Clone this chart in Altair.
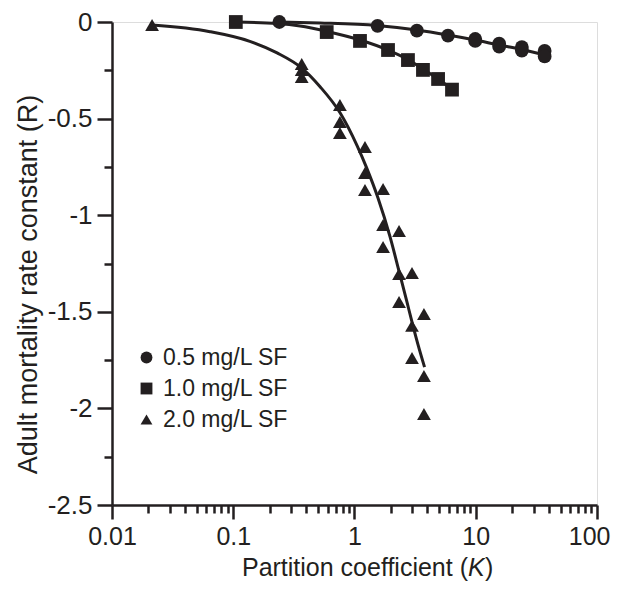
import altair as alt
import pandas as pd

# ---- data ----
series_names = ["0.5 mg/L SF", "1.0 mg/L SF", "2.0 mg/L SF"]

circ_K = [0.24, 1.55, 3.27, 5.9, 9.9, 9.9, 15.6, 15.6, 24.0, 24.0, 37.0, 37.0]
circ_R = [0.0, -0.02, -0.045, -0.07, -0.088, -0.098, -0.112, -0.128, -0.13, -0.148, -0.15, -0.178]

sq_K = [0.105, 0.59, 1.11, 1.89, 2.76, 3.67, 4.89, 6.37]
sq_R = [0.0, -0.052, -0.098, -0.145, -0.197, -0.248, -0.295, -0.35]

tri_K = [0.0214, 0.367, 0.367, 0.367, 0.758, 0.758, 0.758, 1.22, 1.22, 1.22, 1.72, 1.72, 1.72,
         2.33, 2.33, 2.33, 2.98, 2.98, 2.98, 3.74, 3.74, 3.74]
tri_R = [-0.016, -0.217, -0.248, -0.285, -0.430, -0.518, -0.575, -0.647, -0.782, -0.870,
         -0.864, -1.051, -1.165, -1.082, -1.304, -1.449, -1.299, -1.573, -1.739, -1.511,
         -1.832, -2.029]

# fitted curves
circ_curve_K = [0.24, 0.52, 1.53, 3.27, 5.9, 9.86, 15.6, 24.0, 37.2]
circ_curve_R = [0.0, -0.005, -0.018, -0.041, -0.067, -0.093, -0.119, -0.142, -0.171]

sq_curve_K = [0.105, 0.23, 0.356, 0.593, 1.11, 1.89, 2.76, 3.67, 4.89, 6.37]
sq_curve_R = [0.0, -0.008, -0.021, -0.049, -0.093, -0.145, -0.194, -0.243, -0.295, -0.347]

tri_curve_K = [0.0214, 0.0643, 0.137, 0.23, 0.37, 0.52, 0.76, 1.05, 1.25, 1.56, 1.96, 2.33,
               2.71, 3.0, 3.34, 3.78]
tri_curve_R = [-0.016, -0.050, -0.100, -0.160, -0.240, -0.335, -0.470, -0.640, -0.750, -0.910,
               -1.110, -1.290, -1.450, -1.560, -1.670, -1.786]

x_major = [0.01, 0.1, 1, 10, 100]
x_minor = [m * d for d in [0.01, 0.1, 1, 10] for m in range(2, 10)]
y_major = [0, -0.5, -1, -1.5, -2, -2.5]
y_minor = [-0.25, -0.75, -1.25, -1.75, -2.25]

# ---- tables ----
pts = pd.concat([
    pd.DataFrame({"K": circ_K, "R": circ_R, "series": series_names[0]}),
    pd.DataFrame({"K": sq_K, "R": sq_R, "series": series_names[1]}),
    pd.DataFrame({"K": tri_K, "R": tri_R, "series": series_names[2]}),
])
curves = pd.concat([
    pd.DataFrame({"K": circ_curve_K, "R": circ_curve_R, "series": series_names[0]}),
    pd.DataFrame({"K": sq_curve_K, "R": sq_curve_R, "series": series_names[1]}),
    pd.DataFrame({"K": tri_curve_K, "R": tri_curve_R, "series": series_names[2]}),
])

INK = "#231f20"
FONT = "Liberation Sans"
W, H = 485, 483

xscale = alt.Scale(type="log", domain=[0.01, 100], nice=False)
yscale = alt.Scale(domain=[-2.5, 0], nice=False, zero=False)

last_x = "datum.value == 100"
major_x = alt.Axis(orient="bottom", values=x_major, labelExpr="'' + datum.value",
                   title=None, tickSize=14, tickWidth=2.5, domainWidth=2.5,
                   domainColor=INK, tickColor=INK, labelColor=INK, labelFont=FONT,
                   labelFontSize=25, labelPadding=5, grid=False, labelFlush=False,
                   labelOverlap=False,
                   labelAlign={"condition": {"test": last_x, "value": "right"}, "value": "center"},
                   labelOffset={"condition": {"test": last_x, "value": 13}, "value": 0})
major_y = alt.Axis(orient="left", values=y_major,
                   labelExpr="datum.value == 0 ? '0' : '-' + format(-datum.value, '')",
                   title="Adult mortality rate constant (R)", titleFont=FONT,
                   titleFontSize=27, titleFontWeight="normal", titleColor=INK,
                   titlePadding=5, titleY=262,
                   tickSize=15, tickWidth=2.5, domainWidth=2.5, domainColor=INK,
                   tickColor=INK, labelColor=INK, labelFont=FONT, labelFontSize=26,
                   labelPadding=5, grid=False, labelOverlap=False)
minor_x = alt.Axis(orient="bottom", values=x_minor, labels=False, domain=False, title=None,
                   tickSize=8, tickWidth=2.5, tickColor=INK, grid=False)
minor_y = alt.Axis(orient="left", values=y_minor, labels=False, domain=False, title=None,
                   tickSize=8, tickWidth=2.5, tickColor=INK, grid=False)

lines = alt.Chart(curves).mark_line(color=INK, strokeWidth=3, interpolate="monotone").encode(
    x=alt.X("K:Q", scale=xscale, axis=major_x),
    y=alt.Y("R:Q", scale=yscale, axis=major_y),
    detail="series:N",
)

points = alt.Chart(pts).mark_point(filled=True, opacity=1, color=INK, size=190).encode(
    x=alt.X("K:Q", scale=xscale, axis=minor_x),
    y=alt.Y("R:Q", scale=yscale, axis=minor_y),
    shape=alt.Shape("series:N",
                    scale=alt.Scale(domain=series_names,
                                    range=["circle", "square", "triangle-up"]),
                    legend=alt.Legend(orient="none", legendX=23, legendY=324, title=None,
                                      labelFont=FONT, labelFontSize=23, labelColor=INK,
                                      symbolSize=140, symbolFillColor=INK,
                                      symbolStrokeColor=INK, symbolStrokeWidth=0,
                                      rowPadding=7, labelOffset=5)),
)

# x-axis title with italic K
TY = 554
FS = 25
t1 = alt.Chart(pd.DataFrame({"t": ["Partition coefficient ("]})).mark_text(
    align="right", baseline="alphabetic", font=FONT, fontSize=FS, color=INK).encode(
    text="t:N", x=alt.value(356), y=alt.value(TY))
t2 = alt.Chart(pd.DataFrame({"t": ["K"]})).mark_text(
    align="left", baseline="alphabetic", font=FONT, fontSize=FS, fontStyle="italic", color=INK).encode(
    text="t:N", x=alt.value(356), y=alt.value(TY))
t3 = alt.Chart(pd.DataFrame({"t": [")"]})).mark_text(
    align="left", baseline="alphabetic", font=FONT, fontSize=FS, color=INK).encode(
    text="t:N", x=alt.value(373), y=alt.value(TY))

chart = alt.layer(lines, points, t1, t2, t3).resolve_axis(
    x="independent", y="independent"
).properties(
    width=W, height=H,
    autosize=alt.AutoSizeParams(type="none"),
    padding={"left": 104, "top": 14, "right": 14, "bottom": 77},
).configure_view(stroke=None).configure(background="white")

chart.save("out.html", embed_options={"renderer": "svg", "actions": False})
